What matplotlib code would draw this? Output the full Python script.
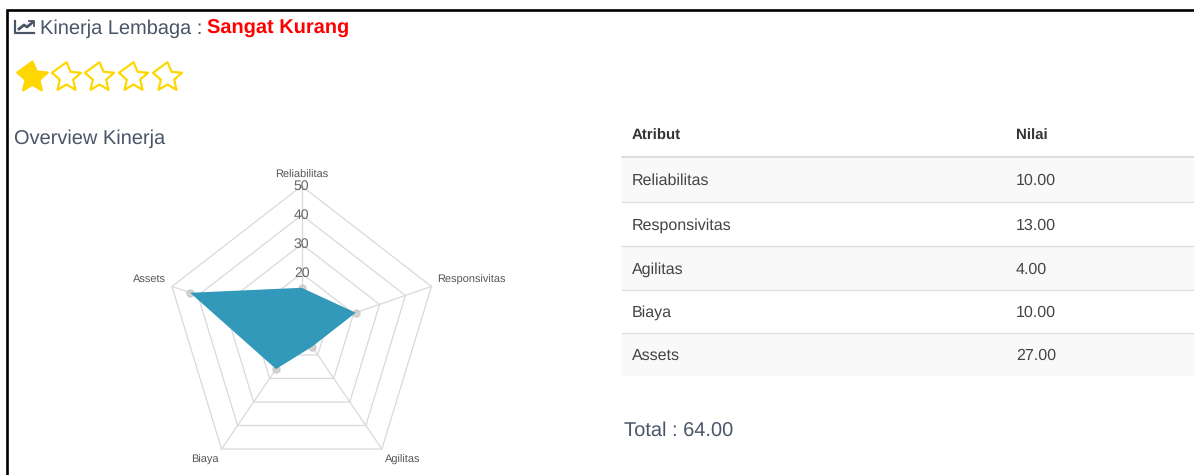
import numpy as np
from matplotlib import pyplot as plt
from matplotlib.markers import MarkerStyle
from matplotlib.path import Path

plt.rcParams['font.family'] = ['Liberation Sans', 'DejaVu Sans']
plt.rcParams['text.hinting'] = 'no_hinting'
plt.rcParams['text.hinting_factor'] = 1

# Data

attributes = ['Reliabilitas', 'Responsivitas', 'Agilitas', 'Biaya', 'Assets']
table_values = ['10.00', '13.00', '4.00', '10.00', '27.00']
plotted_values = [15, 20.8, 6.5, 16, 43]
ring_levels = [10, 20, 30, 40, 50]
ring_labels = ['20', '30', '40', '50']
rating = 1
max_rating = 5
icon_xs = [19, 24, 27, 33]
icon_ys = [29, 25, 27, 22]

W, H = 1194, 475
TEXT_DARK = '#333333'
TEXT_HEAD = '#4a5568'
GRID = '#d9d9d9'

fig = plt.figure(figsize=(W / 100, H / 100), dpi=100, facecolor='white')

# Overlay in pixel coordinates for the page parts

page = fig.add_axes([0, 0, 1, 1])
page.set_xlim(0, W)
page.set_ylim(H, 0)
page.axis('off')

# Page border

page.plot([7, 7, W], [H, 10, 10], color='black', lw=1.9, solid_joinstyle='miter')

# Heading with icon

page.plot([15, 15, 34], [21, 33, 33], color=TEXT_HEAD, lw=1.6)
page.plot(icon_xs, icon_ys, color=TEXT_HEAD, lw=2)
page.plot([29, 34, 34], [21, 21, 26], color=TEXT_HEAD, lw=1.3)
page.text(40, 29, 'Kinerja Lembaga :', fontsize=14.3, color=TEXT_HEAD, va='center')
page.text(207, 29, 'Sangat Kurang', fontsize=14.3, color='#ff0000', weight='bold', va='center')

# Stars: fatter than the built-in marker, with rounded corners

star_angles = np.arange(10) * np.pi / 5
star_radii = np.where(np.arange(10) % 2 == 0, 1.0, 0.46)
star_path = Path(np.column_stack([star_radii * np.sin(star_angles), star_radii * np.cos(star_angles)]),
                 closed=True)
star_marker = MarkerStyle(star_path, joinstyle='round')

for i in range(max_rating):
    filled = i < rating
    page.plot(32 + i * 33.7, 77, marker=star_marker, ms=23 if filled else 22,
              mfc='#ffd700' if filled else 'white', mec='#ffd700',
              mew=1.6, ls='none')

page.text(14, 139, 'Overview Kinerja', fontsize=14.3, color=TEXT_HEAD, va='center')

# Table

row_lines = [157, 202, 246, 290, 333, 376]
page.text(632, 136, 'Atribut', fontsize=10.6, color=TEXT_DARK, weight='bold', va='center')
page.text(1016, 136, 'Nilai', fontsize=10.6, color=TEXT_DARK, weight='bold', va='center')
page.plot([622, W], [157, 157], color='#dddddd', lw=1.5)
for i, (name, value) in enumerate(zip(attributes, table_values)):
    top, bottom = row_lines[i], row_lines[i + 1]
    if i % 2 == 0:
        page.fill_between([622, W], top, bottom, color='#f9f9f9', lw=0, zorder=0)
    if i < len(attributes) - 1:
        page.plot([622, W], [bottom, bottom], color='#dddddd', lw=0.9)
    page.text(632, (top + bottom) / 2 + 1.5, name, fontsize=11.3, color='#444444', va='center')
    page.text(1016, (top + bottom) / 2 + 1.5, value, fontsize=11.3, color='#444444', va='center')

page.text(624, 431, 'Total : 64.00', fontsize=14.2, color=TEXT_HEAD, va='center')

# Radar: the source is stretched, so the polar axes are not kept round

cx, cy, rx, ry = 301.7, 331.4, 136.4, 145.4
radar = fig.add_axes([(cx - rx) / W, 1 - (cy + ry) / H, 2 * rx / W, 2 * ry / H], projection='polar')
radar.set_aspect('auto')
radar.set_theta_zero_location('N')
radar.set_theta_direction(-1)
radar.set_ylim(0, 50)
radar.axis('off')
radar.patch.set_alpha(0)

thetas = np.arange(len(attributes)) * 2 * np.pi / len(attributes)
closed_thetas = np.append(thetas, thetas[0])

for level in ring_levels:
    radar.plot(closed_thetas, [level] * len(closed_thetas), color=GRID, lw=0.9, clip_on=False, zorder=1)
for theta in thetas:
    radar.plot([theta, theta], [0, 50], color=GRID, lw=0.9, clip_on=False, zorder=1)

radar.fill(closed_thetas, plotted_values + plotted_values[:1], color='#3399bb', lw=0, zorder=3)
radar.plot(thetas, plotted_values, ls='none', marker='o', ms=5, mfc='#cccccc', mec='#c4c4c4',
           alpha=0.8, clip_on=False, zorder=2)

for label, level in zip(ring_labels, ring_levels[1:]):
    radar.text(0, level, label, fontsize=10.2, color='#666666', ha='center', va='center', zorder=4,
               clip_on=False)

label_offsets = [(0, 8), (29, 5), (15, -8), (-12, -8), (-16, 5)]
for theta, name, offset in zip(thetas, attributes, label_offsets):
    radar.annotate(name, (theta, 50), xytext=offset, textcoords='offset points', fontsize=7.9,
                   color='#555555', ha='center', va='center', annotation_clip=False)

fig.savefig('out.png', dpi=100)
